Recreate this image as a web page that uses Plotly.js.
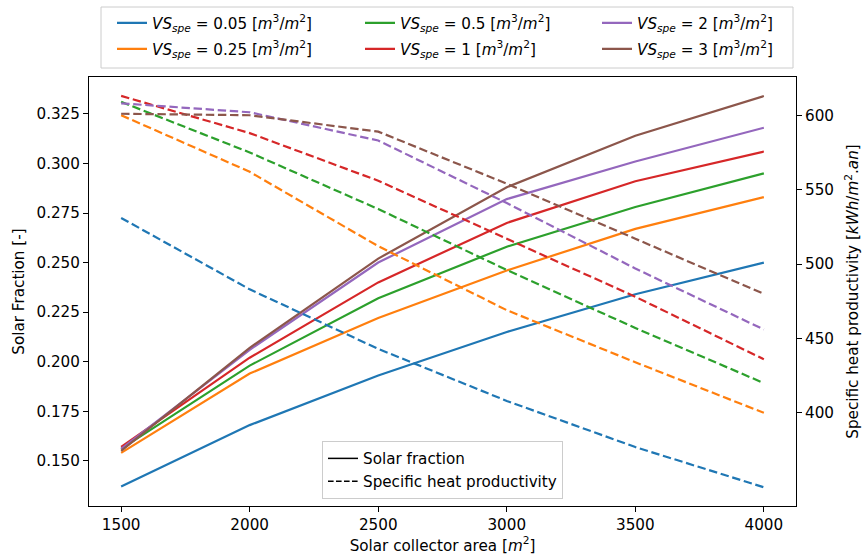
<!DOCTYPE html>
<html>
<head>
<meta charset="utf-8">
<script src="https://cdn.plot.ly/plotly-3.0.1.min.js"></script>
<style>html,body{margin:0;padding:0;background:#fff;}#chart{width:862px;height:558px;}</style>
</head>
<body>
<div id="chart"></div>
<script>
// ---- data ----
const area = [1500, 2000, 2500, 3000, 3500, 4000];
const vsValues = ['0.05', '0.25', '0.5', '1', '2', '3'];
// Solar fraction [-] (left axis)
const sf_005 = [0.137, 0.168, 0.193, 0.215, 0.234, 0.250];
const sf_025 = [0.154, 0.194, 0.222, 0.246, 0.267, 0.283];
const sf_05  = [0.156, 0.198, 0.232, 0.258, 0.278, 0.295];
const sf_1   = [0.157, 0.202, 0.240, 0.270, 0.291, 0.306];
const sf_2   = [0.156, 0.206, 0.250, 0.282, 0.301, 0.318];
const sf_3   = [0.155, 0.207, 0.252, 0.288, 0.314, 0.334];
// Specific heat productivity [kWh/m2.an] (right axis)
const shp_005 = [531, 483, 443, 408, 377, 350];
const shp_025 = [600, 562, 512, 469, 434, 400];
const shp_05  = [609, 575, 537, 496, 457, 420];
const shp_1   = [613, 588, 556, 517, 478, 436];
const shp_2   = [608, 602, 583, 541, 497, 456];
const shp_3   = [601, 600, 589, 554, 517, 480];
// tick labels
const sfTicks = [0.150, 0.175, 0.200, 0.225, 0.250, 0.275, 0.300, 0.325];
const shpTicks = [400, 450, 500, 550, 600];

const sfSeries = [sf_005, sf_025, sf_05, sf_1, sf_2, sf_3];
const shpSeries = [shp_005, shp_025, shp_05, shp_1, shp_2, shp_3];
const colors = ['#1f77b4', '#ff7f0e', '#2ca02c', '#d62728', '#9467bd', '#8c564b'];
const legendIds = ['legend', 'legend4', 'legend2', 'legend5', 'legend3', 'legend6'];
const styleNames = ['Solar fraction', 'Specific heat productivity'];

const FONT = 'DejaVu Sans, sans-serif';
const FS = 15.2;
const traces = [];
vsValues.forEach(function (v, i) {
  traces.push({
    x: area, y: sfSeries[i], type: 'scatter', mode: 'lines',
    line: {color: colors[i], width: 2.2},
    name: '<i>VS</i><sub><i>spe</i></sub> = ' + v + ' [<i>m</i><sup>3</sup>/<i>m</i><sup>2</sup>]',
    legend: legendIds[i], showlegend: true, hoverinfo: 'skip'
  });
  traces.push({
    x: area, y: shpSeries[i], type: 'scatter', mode: 'lines', yaxis: 'y2',
    line: {color: colors[i], width: 2.2, dash: '8.4px,3.7px'},
    showlegend: false, hoverinfo: 'skip'
  });
});
traces.push({x: [null], y: [null], type: 'scatter', mode: 'lines', name: styleNames[0],
  line: {color: 'black', width: 1.5}, legend: 'legend7', showlegend: true});
traces.push({x: [null], y: [null], type: 'scatter', mode: 'lines', name: styleNames[1],
  line: {color: 'black', width: 1.5, dash: '5.6px,2.4px'}, legend: 'legend7', showlegend: true});

const L = 89, R = 66, T = 77, B = 52;
const W = 862 - L - R, H = 558 - T - B;
function px(xp) { return (xp - L) / W; }
function py(yp) { return (558 - B - yp) / H; }

function topLegend(xpx, ypx) {
  return {x: px(xpx), xanchor: 'left', y: py(ypx), yanchor: 'middle',
    bgcolor: 'rgba(0,0,0,0)', borderwidth: 0, font: {family: FONT, size: FS, color: '#000'}};
}

const axisCommon = {
  showgrid: false, zeroline: false, ticks: 'outside', ticklen: 5, tickwidth: 1,
  tickcolor: '#000', linecolor: '#000', linewidth: 1,
  tickfont: {family: FONT, size: FS, color: '#000'}
};

const layout = {
  width: 862, height: 558,
  margin: {l: L, r: R, t: T, b: B, autoexpand: false},
  paper_bgcolor: '#fff', plot_bgcolor: '#fff',
  font: {family: FONT, size: FS, color: '#000'},
  xaxis: Object.assign({}, axisCommon, {
    range: [1375, 4125], tickvals: area, showline: true, mirror: true,
    title: {text: 'Solar collector area [<i>m</i><sup>2</sup>]', font: {family: FONT, size: FS}, standoff: 6}
  }),
  yaxis: Object.assign({}, axisCommon, {
    range: [0.1272, 0.3436], tickvals: sfTicks, tickformat: '.3f', showline: true, mirror: true,
    title: {text: 'Solar Fraction [-]', font: {family: FONT, size: FS}, standoff: 8}
  }),
  yaxis2: Object.assign({}, axisCommon, {
    overlaying: 'y', side: 'right', range: [337.4, 625.7], tickvals: shpTicks, showline: false,
    title: {text: 'Specific heat productivity [<i>kWh</i>/<i>m</i><sup>2</sup>.<i>an</i>]', font: {family: FONT, size: FS}, standoff: 14}
  }),
  legend: topLegend(112, 23),
  legend4: topLegend(112, 49),
  legend2: topLegend(360, 23),
  legend5: topLegend(360, 49),
  legend3: topLegend(597, 23),
  legend6: topLegend(597, 49),
  legend7: {x: 0.5, xanchor: 'center', y: py(499), yanchor: 'bottom',
    bgcolor: 'rgba(255,255,255,0.8)', bordercolor: '#cccccc', borderwidth: 1,
    font: {family: FONT, size: FS, color: '#000'}},
  shapes: [{type: 'rect', xref: 'paper', yref: 'paper', x0: px(101), x1: px(793), y0: py(68), y1: py(7),
    fillcolor: '#fff', line: {color: '#cccccc', width: 1}, layer: 'above'}],
  showlegend: true
};

Plotly.newPlot('chart', traces, layout, {displayModeBar: false, staticPlot: true});
</script>
</body>
</html>
